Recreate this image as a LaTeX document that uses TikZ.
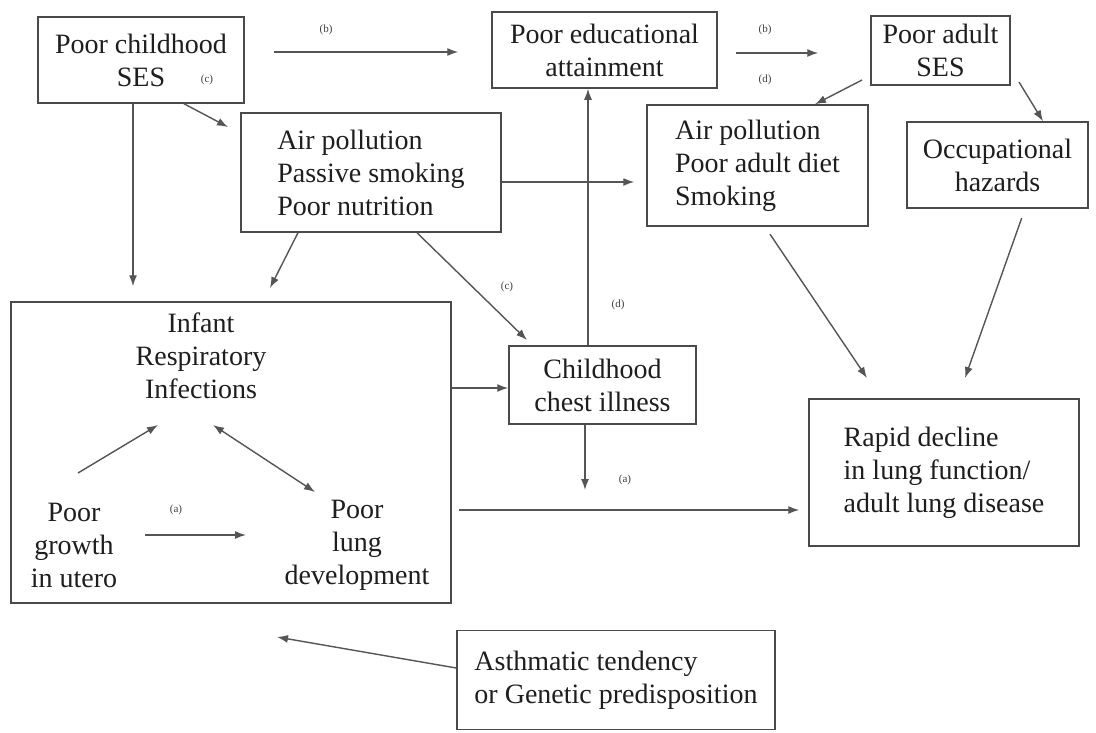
\documentclass[tikz,border=0pt]{standalone}
\usepackage{fontspec}
\setmainfont{Liberation Serif}
\usetikzlibrary{arrows.meta}
\definecolor{boxc}{HTML}{4A4A4A}
\definecolor{linec}{HTML}{555555}
\definecolor{txtc}{HTML}{1E1E1E}
\begin{document}
\begin{tikzpicture}[x=1pt,y=-1pt,
  box/.style={draw=boxc, line width=1.5pt, inner sep=0pt, align=center, text=txtc, font=\fontsize{28}{33}\selectfont},
  txt/.style={inner sep=0pt, align=center, text=txtc, font=\fontsize{28}{33}\selectfont},
  lab/.style={inner sep=0pt, text=txtc!85, font=\fontsize{11}{12}\selectfont},
  arr/.style={draw=linec, line width=1.4pt, -{Latex[length=11pt,width=8pt]}},
  darr/.style={draw=linec, line width=1.4pt, {Latex[length=11pt,width=8pt]}-{Latex[length=11pt,width=8pt]}},
  ln/.style={draw=linec, line width=1.4pt}]
\useasboundingbox[fill=white] (0,0) rectangle (1096,732);

% boxes
\node[box, minimum width=206pt, minimum height=86pt] (ses) at (141,60) {Poor childhood\\SES};
\node[box, minimum width=225pt, minimum height=76pt] (edu) at (604.5,50) {Poor educational\\attainment};
\node[box, minimum width=139pt, minimum height=69pt] (adses) at (940.5,50.5) {Poor adult\\SES};
\node[box, align=left, minimum width=260pt, minimum height=119pt] (air1) at (371,172.5) {Air pollution\\Passive smoking\\Poor nutrition};
\node[box, align=left, minimum width=221pt, minimum height=121pt] (air2) at (757.5,165.5) {Air pollution\\Poor adult diet\\Smoking};
\node[box, minimum width=181pt, minimum height=86pt] (occ) at (997.5,165) {Occupational\\hazards};
\node[box, minimum width=440pt, minimum height=301pt] (infant) at (231,452.5) {};
\node[box, minimum width=187pt, minimum height=78pt] (chest) at (602.5,385) {Childhood\\chest illness};
\node[box, align=left, minimum width=270pt, minimum height=147pt] (rapid) at (944,472.5) {Rapid decline\\in lung function/\\adult lung disease};
\node[box, align=left, minimum width=318pt, minimum height=99pt] (asth) at (616,680) {Asthmatic tendency\\or Genetic predisposition};

% inner texts of infant box
\node[txt] (inf) at (201,356) {Infant\\Respiratory\\Infections};
\node[txt] (growth) at (74,545) {Poor\\growth\\in utero};
\node[txt] (lung) at (357,545) {Poor\\lung\\development};

% free-end coordinates
\coordinate (c1) at (228,127);
\coordinate (c2) at (270,288);
\coordinate (c3) at (527,340);
\coordinate (c4) at (862,80);
\coordinate (c5) at (1019,82);
\coordinate (c6) at (867,378);
\coordinate (c7) at (965,378);
\coordinate (c8) at (585,490);
\coordinate (c9) at (277,637);
\coordinate (g1) at (78,473);
\coordinate (g2) at (158,425);
\coordinate (d1) at (213,425);
\coordinate (d2) at (315,492);
\coordinate (a1) at (145,535);
\coordinate (a2) at (246,535);

% connectors
\draw[arr, shorten <=29pt, shorten >=33pt] (ses.east |- 0,52) -- (edu.west |- 0,52);
\draw[arr, shorten <=18pt, shorten >=52pt] (edu.east |- 0,53) -- (adses.west |- 0,53);
\draw[arr] (ses.south -| 184,0) -- (c1);
\draw[arr, shorten >=15pt] (ses.south -| 133,0) -- (infant.north -| 133,0);
\draw[arr] (air1.south -| 298,0) -- (c2);
\draw[arr] (air1.south -| 417,0) -- (c3);
\draw[arr, shorten >=12pt] (air1.east |- 0,182) -- (air2.west |- 0,182);
\draw[arr] (chest.north -| 588,0) -- (edu.south -| 588,0);
\draw[arr] (c4) -- (air2.north -| 815,0);
\draw[arr] (c5) -- (occ.north -| 1043,0);
\draw[arr, shorten <=9pt] (air2.south -| 765,0) -- (c6);
\draw[arr, shorten <=10pt] (occ.south -| 1025,0) -- (c7);
\draw[arr] (infant.east |- 0,388) -- (chest.west |- 0,388);
\draw[arr] (chest.south -| 585,0) -- (c8);
\draw[arr, shorten <=7pt, shorten >=9pt] (infant.east |- 0,510) -- (rapid.west |- 0,510);
\draw[arr] (asth.west |- 0,668) -- (c9);
\draw[arr] (g1) -- (g2);
\draw[darr] (d1) -- (d2);
\draw[arr] (a1) -- (a2);

% labels
\node[lab] (lb1) at (326,30) {(b)};
\node[lab] (lb2) at (765,30) {(b)};
\node[lab] (lc1) at (207,80) {(c)};
\node[lab] (ld1) at (765,80) {(d)};
\node[lab] (lc2) at (507,287) {(c)};
\node[lab] (ld2) at (618,305) {(d)};
\node[lab] (la1) at (625,480) {(a)};
\node[lab] (la2) at (176,510) {(a)};
\end{tikzpicture}
\end{document}
